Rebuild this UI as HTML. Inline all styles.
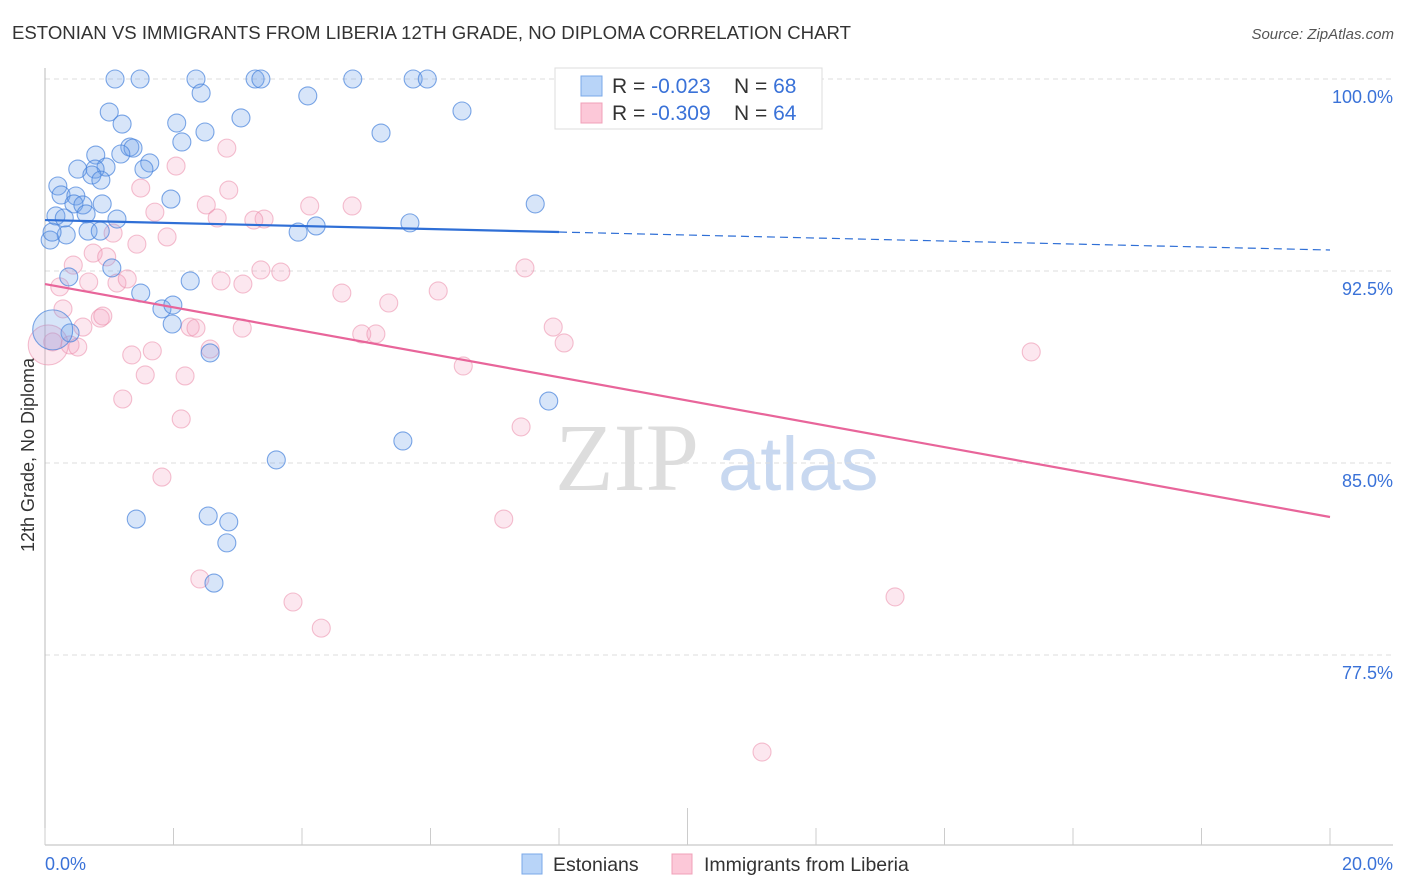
<!DOCTYPE html>
<html><head><meta charset="utf-8"><style>
body{margin:0;background:#fff;font-family:"Liberation Sans",sans-serif;}
svg{display:block}
</style></head><body>
<svg id="chart" width="1406" height="892" xmlns="http://www.w3.org/2000/svg">
<text x="12" y="39" font-size="18.6" fill="#333">ESTONIAN VS IMMIGRANTS FROM LIBERIA 12TH GRADE, NO DIPLOMA CORRELATION CHART</text>
<text x="1394" y="39" font-size="15" fill="#555" text-anchor="end" font-style="italic">Source: ZipAtlas.com</text>
<text x="555" y="490" font-size="96" fill="#ddd" font-family="Liberation Serif,serif">ZIP</text>
<text x="718" y="490" font-size="76" fill="#c8d8f0">atlas</text>
<text transform="translate(34,455) rotate(-90)" font-size="18" fill="#333" text-anchor="middle">12th Grade, No Diploma</text>
<g id="grid"></g><g id="pts"></g><g id="lines"></g>
<g>
<rect x="555" y="68" width="267" height="61" fill="#fff" stroke="#ddd"/>
<rect x="581" y="76" width="21" height="20" fill="#b8d4f8" stroke="#7aa8e8"/>
<rect x="581" y="103" width="21" height="20" fill="#fcc8d8" stroke="#f0a0b8"/>
<text x="612" y="93" font-size="21" fill="#333">R = <tspan fill="#3a72d8">-0.023</tspan><tspan x="734">N = </tspan><tspan fill="#3a72d8">68</tspan></text>
<text x="612" y="120" font-size="21" fill="#333">R = <tspan fill="#3a72d8">-0.309</tspan><tspan x="734">N = </tspan><tspan fill="#3a72d8">64</tspan></text>
</g>
<g>
<rect x="522" y="854" width="20" height="20" fill="#b8d4f8" stroke="#7aa8e8"/>
<text x="553" y="871" font-size="19.5" fill="#333">Estonians</text>
<rect x="672" y="854" width="20" height="20" fill="#fcc8d8" stroke="#f0a0b8"/>
<text x="704" y="871" font-size="19.5" fill="#333">Immigrants from Liberia</text>
</g>
</svg>
<script>
const yTicks=[100,92.5,85,77.5];
const yTickLabels=["100.0%","92.5%","85.0%","77.5%"];
const xTicks=[0,2,4,6,8,10,12,14,16,18,20];
const blueX=[1.09,1.48,2.35,3.27,3.36,4.79,5.73,5.95,2.43,4.09,1.0,6.49,1.2,2.05,3.05,2.49,5.23,2.13,1.32,1.37,1.18,0.79,1.63,0.51,0.95,1.54,0.78,0.73,0.87,0.2,0.25,0.48,1.96,0.89,0.45,0.59,0.64,0.17,0.3,1.12,7.63,5.68,4.22,3.94,0.67,0.33,0.86,0.08,0.11,0.37,1.04,2.26,1.49,1.82,1.99,1.98,0.39,2.57,7.84,5.57,3.6,1.42,2.54,2.86,2.83,2.63,0.12];
const blueY=[100,100,100,100,100,100,100,100,99.45,99.34,98.71,98.75,98.24,98.28,98.48,97.93,97.89,97.54,97.34,97.3,97.07,97.03,96.72,96.48,96.56,96.48,96.48,96.25,96.05,95.82,95.47,95.43,95.31,95.12,95.12,95.08,94.73,94.65,94.57,94.53,95.12,94.38,94.26,94.02,94.06,93.91,94.06,93.71,94.02,92.27,92.62,92.11,91.64,91.02,91.17,90.43,90.08,89.3,87.42,85.86,85.12,82.81,82.93,82.7,81.88,80.31,90.2];
const pinkX=[9.84,2.04,2.83,1.49,2.86,1.71,2.51,2.68,3.41,3.25,4.12,4.78,1.06,1.43,1.9,0.75,0.96,0.44,3.36,3.67,7.47,0.23,0.68,1.12,1.28,2.74,3.08,4.62,6.12,5.35,0.28,0.86,0.9,0.59,2.26,2.35,3.07,4.93,5.15,7.91,8.08,0.12,0.39,0.51,1.35,1.67,2.57,1.56,2.18,6.51,1.21,2.12,7.41,1.82,7.14,2.41,3.86,4.3,13.23,15.35,11.16,0.05];
const pinkY=[100,96.6,97.3,95.74,95.66,94.8,95.08,94.57,94.53,94.49,95.04,95.04,93.98,93.55,93.83,93.2,93.05,92.73,92.54,92.46,92.62,91.88,92.07,92.03,92.19,92.11,91.99,91.64,91.72,91.25,91.02,90.66,90.74,90.31,90.31,90.27,90.27,90.04,90.04,90.31,89.69,89.73,89.61,89.53,89.22,89.38,89.45,88.44,88.4,88.79,87.5,86.72,86.41,84.45,82.81,80.47,79.57,78.55,79.77,89.34,73.71,89.61];
const blueTrend=[94.49,93.32];
const pinkTrend=[91.99,82.89];
const NS="http://www.w3.org/2000/svg";
const xs=v=>45+v*64.25, ys=v=>79+(100-v)*25.6;
function mk(p,t,a){const e=document.createElementNS(NS,t);for(const k in a)e.setAttribute(k,a[k]);p.appendChild(e);return e;}
const g=document.getElementById('grid');
yTicks.forEach((v,i)=>{
 const l=mk(g,'line',{x1:45,x2:1393,y1:ys(v),y2:ys(v),stroke:'#ddd','stroke-dasharray':'5,4'});
 
 
 const t=mk(g,'text',{x:1393,y:ys(v)+24,'font-size':18,fill:'#3a72d8','text-anchor':'end'});t.textContent=yTickLabels[i];
 
 
});
const ax=mk(g,'line',{x1:45,x2:45,y1:68,y2:845,stroke:'#bbb'});


const bx=mk(g,'line',{x1:45,x2:1393,y1:845,y2:845,stroke:'#bbb'});


xTicks.forEach(v=>{
 const t=mk(g,'line',{x1:xs(v),x2:xs(v),y1:v==10?808:828,y2:845,stroke:'#ccc'});
 
 
});
[[0,"0.0%",'start',45],[20,"20.0%",'end',1393]].forEach(d=>{
 const t=mk(g,'text',{x:d[3],y:870,'font-size':18,fill:'#3a72d8','text-anchor':d[2]});t.textContent=d[1];
 
 
});
const P=document.getElementById('pts');
function pts(X,Y,fill,stroke,name){X.forEach((x,i)=>{
 const big=(i==X.length-1);
 const c=mk(P,'circle',{cx:xs(x),cy:ys(Y[i]),r:big?20:9,fill:fill,stroke:stroke,'stroke-width':1.1});
 
 
});}
pts(pinkX,pinkY,'rgba(245,160,190,0.25)','rgba(235,140,170,0.55)','liberia-point');
pts(blueX,blueY,'rgba(110,160,235,0.28)','rgba(70,130,220,0.7)','estonian-point');
const L=document.getElementById('lines');
const by=x=>blueTrend[0]+(blueTrend[1]-blueTrend[0])*x/20;
const b1=mk(L,'line',{x1:xs(0),y1:ys(by(0)),x2:xs(8),y2:ys(by(8)),stroke:'#2f6fd6','stroke-width':2.2});


const b2=mk(L,'line',{x1:xs(8),y1:ys(by(8)),x2:xs(20),y2:ys(by(20)),stroke:'#2f6fd6','stroke-width':1.2,'stroke-dasharray':'8,5'});


const p1=mk(L,'line',{x1:xs(0),y1:ys(pinkTrend[0]),x2:xs(20),y2:ys(pinkTrend[1]),stroke:'#e8659a','stroke-width':2.2});


</script>
</body></html>
